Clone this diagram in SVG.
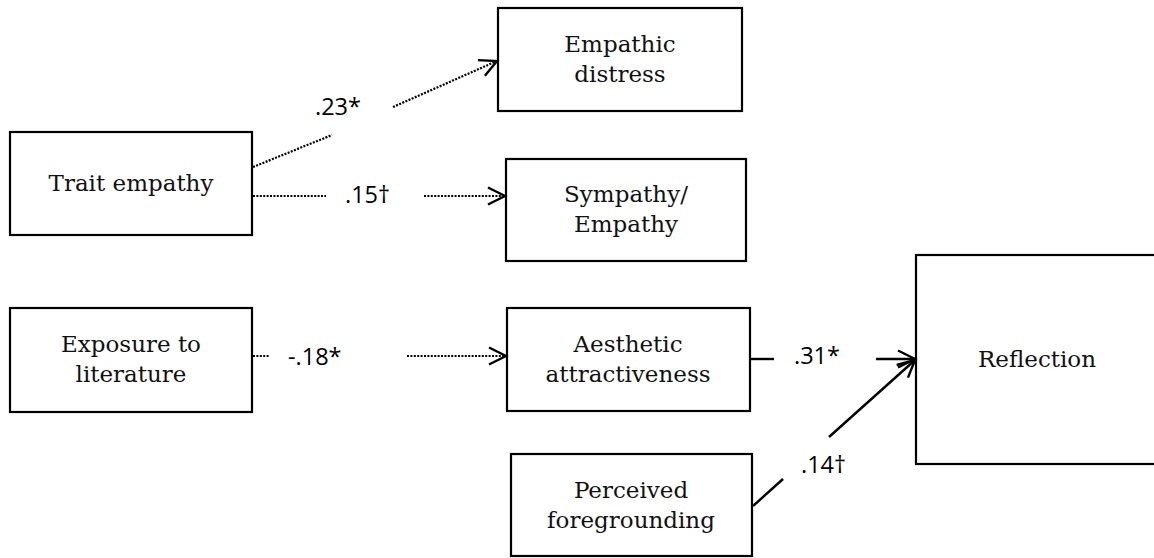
<svg xmlns="http://www.w3.org/2000/svg" width="1154" height="558" viewBox="0 0 1154 558">
  <style>
    .box { fill: #ffffff; stroke: #000000; stroke-width: 2.2; }
    .name { font-family: "DejaVu Serif", "Liberation Serif", serif; font-size: 23px; fill: #111111; text-anchor: middle; }
    .coef { font-family: "Open Sans", "DejaVu Sans", sans-serif; font-size: 23.5px; fill: #000000; }
    .dotted { fill: none; stroke: #000000; stroke-width: 2.2; stroke-dasharray: 2 1.4; }
    .solid { fill: none; stroke: #000000; stroke-width: 2.4; }
  </style>
  <defs>
    <marker id="head" markerUnits="userSpaceOnUse" viewBox="-20 -11 22 22" refX="0" refY="0" markerWidth="22" markerHeight="22" orient="auto" overflow="visible">
      <path d="M -17 -8.5 L 0 0 L -17 8.5" fill="none" stroke="#000000" stroke-width="2.4" stroke-linejoin="miter"/>
    </marker>
  </defs>

  <rect width="1154" height="558" fill="#ffffff"/>

  <g id="trait-empathy">
    <rect class="box" x="10" y="132" width="242" height="103"/>
    <text class="name" x="131" y="191">Trait empathy</text>
  </g>

  <g id="exposure-to-literature">
    <rect class="box" x="10" y="308" width="242" height="104"/>
    <text class="name" x="131" y="352">Exposure to</text>
    <text class="name" x="131" y="382">literature</text>
  </g>

  <g id="empathic-distress">
    <rect class="box" x="498" y="8" width="244" height="103"/>
    <text class="name" x="620" y="52">Empathic</text>
    <text class="name" x="620" y="82">distress</text>
  </g>

  <g id="sympathy-empathy">
    <rect class="box" x="506" y="159" width="240" height="102"/>
    <text class="name" x="626" y="202">Sympathy/</text>
    <text class="name" x="626" y="232">Empathy</text>
  </g>

  <g id="aesthetic-attractiveness">
    <rect class="box" x="507" y="308" width="243" height="103"/>
    <text class="name" x="628" y="352">Aesthetic</text>
    <text class="name" x="628" y="382">attractiveness</text>
  </g>

  <g id="perceived-foregrounding">
    <rect class="box" x="511" y="454" width="241" height="102"/>
    <text class="name" x="631" y="498">Perceived</text>
    <text class="name" x="631" y="528">foregrounding</text>
  </g>

  <g id="reflection">
    <rect class="box" x="916" y="255" width="260" height="209"/>
    <text class="name" x="978" y="367" style="text-anchor: start">Reflection</text>
  </g>

  <g id="connectors">
    <!-- Trait empathy -> Empathic distress -->
    <line class="dotted" x1="253" y1="167" x2="332" y2="135"/>
    <line class="dotted" x1="393" y1="107" x2="497" y2="61" marker-end="url(#head)"/>
    <text class="coef" x="315" y="115">.23*</text>

    <!-- Trait empathy -> Sympathy/Empathy -->
    <line class="dotted" x1="253" y1="196" x2="326" y2="196"/>
    <line class="dotted" x1="424" y1="196" x2="505" y2="196" marker-end="url(#head)"/>
    <text class="coef" x="345" y="203">.15†</text>

    <!-- Exposure to literature -> Aesthetic attractiveness -->
    <line class="dotted" x1="253" y1="356" x2="270" y2="356"/>
    <line class="dotted" x1="407" y1="356" x2="506" y2="356" marker-end="url(#head)"/>
    <text class="coef" x="288" y="365">-.18*</text>

    <!-- Aesthetic attractiveness -> Reflection -->
    <line class="solid" x1="751" y1="359" x2="774" y2="359"/>
    <line class="solid" x1="876" y1="359" x2="915" y2="359" marker-end="url(#head)"/>
    <text class="coef" x="794" y="364">.31*</text>

    <!-- Perceived foregrounding -> Reflection -->
    <line class="solid" x1="753" y1="506" x2="783" y2="479"/>
    <line class="solid" x1="829" y1="437" x2="915" y2="360" marker-end="url(#head)"/>
    <text class="coef" x="801" y="473">.14†</text>
  </g>
</svg>
